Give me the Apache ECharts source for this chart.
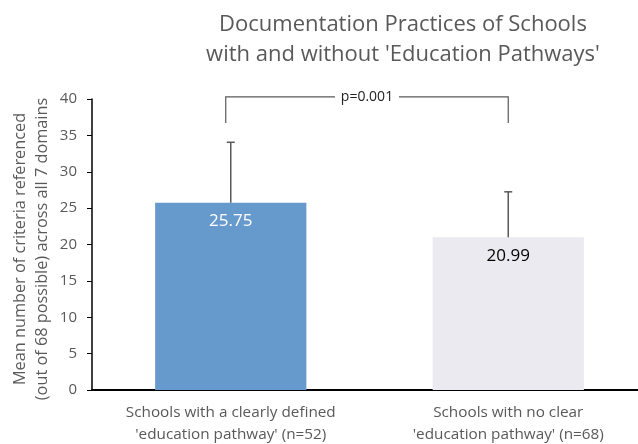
<!DOCTYPE html>
<html>
<head>
<meta charset="utf-8">
<script src="https://cdn.jsdelivr.net/npm/echarts@6/dist/echarts.min.js"></script>
<style>
  html, body { margin: 0; padding: 0; background: #fff; }
  #chart { width: 638px; height: 444px; }
</style>
</head>
<body>
<div id="chart"></div>
<script>
// Chart data
const categories = [
  "Schools with a clearly defined\n'education pathway' (n=52)",
  "Schools with no clear\n'education pathway' (n=68)"
];
const means = [25.75, 20.99];
const errors = [8.3, 6.25];
const barColors = ['#6699CC', '#EAEAF0'];
const labelColors = ['#ffffff', '#000000'];
const pValueText = 'p=0.001';
const bracketY = [36.7, 40.3];   // bottom of bracket legs, top of bracket
const yTicks = { min: 0, max: 40, step: 5 };
const yAxisTitle = 'Mean number of criteria referenced\n(out of 68 possible) across all 7 domains';

const chart = echarts.init(document.getElementById('chart'));
const grey = '#595959';
const font = '"Open Sans", "Liberation Sans", sans-serif';

chart.setOption({
  animation: false,
  title: {
    text: "Documentation Practices of Schools\nwith and without 'Education Pathways'",
    left: 398,
    top: 5,
    textAlign: 'center',
    textStyle: { fontFamily: font, fontSize: 22, fontWeight: 'normal', color: grey, lineHeight: 30 }
  },
  // rotated y-axis title
  graphic: [{
    type: 'text',
    x: 31, y: 249,
    rotation: Math.PI / 2,
    style: {
      text: yAxisTitle, fill: grey, font: '16.3px ' + font, lineHeight: 22,
      align: 'center', verticalAlign: 'middle'
    }
  }],
  grid: { left: 92, top: 99, width: 555, bottom: 54, containLabel: false, outerBoundsMode: 'none' },
  xAxis: {
    type: 'category',
    data: categories,
    axisLine: { lineStyle: { color: '#000', width: 2 } },
    axisTick: { show: false },
    axisLabel: { color: grey, fontFamily: font, fontSize: 15.3, lineHeight: 22, margin: 12 }
  },
  yAxis: {
    type: 'value',
    min: yTicks.min, max: yTicks.max, interval: yTicks.step,
    axisLine: { show: true, lineStyle: { color: '#000', width: 1.5 } },
    axisTick: { show: true, length: 5, lineStyle: { color: '#000' } },
    splitLine: { show: false },
    axisLabel: { color: grey, fontFamily: font, fontSize: 15, margin: 15 }
  },
  series: [
    {
      type: 'bar',
      barWidth: '54.5%',
      data: means.map((v, i) => ({ value: v, itemStyle: { color: barColors[i] },
        label: { color: labelColors[i] } })),
      label: {
        show: true, position: 'insideTop', distance: 10,
        fontFamily: font, fontSize: 17,
        formatter: p => p.value.toFixed(2)
      },
      z: 2
    },
    {
      // error bars (upper whisker with cap)
      type: 'custom',
      data: means.map((v, i) => [i, v, v + errors[i]]),
      renderItem: (params, api) => {
        const base = api.coord([api.value(0), api.value(1)]);
        const top = api.coord([api.value(0), api.value(2)]);
        const cap = 4;
        const style = { stroke: grey, lineWidth: 1.5 };
        return {
          type: 'group',
          children: [
            { type: 'line', shape: { x1: base[0], y1: base[1], x2: top[0], y2: top[1] }, style },
            { type: 'line', shape: { x1: top[0] - cap, y1: top[1], x2: top[0] + cap, y2: top[1] }, style }
          ]
        };
      },
      z: 3
    },
    {
      // significance bracket between the two groups
      type: 'custom',
      data: [[0, 1, bracketY[0], bracketY[1]]],
      renderItem: (params, api) => {
        const l = api.coord([api.value(0), api.value(3)]);
        const r = api.coord([api.value(1), api.value(3)]);
        const lb = api.coord([api.value(0), api.value(2)]);
        const x1 = l[0] - 5, x2 = r[0];
        const y = l[1], yb = lb[1];
        const mid = (x1 + x2) / 2;
        const gap = 32;
        const style = { stroke: grey, lineWidth: 1.2, fill: null };
        return {
          type: 'group',
          children: [
            { type: 'polyline', shape: { points: [[x1, yb], [x1, y], [mid - gap, y]] }, style },
            { type: 'polyline', shape: { points: [[mid + gap, y], [x2, y], [x2, yb]] }, style },
            { type: 'text', x: mid, y: y, style: { text: pValueText, align: 'center', verticalAlign: 'middle',
              fill: '#222', font: '14px ' + font } }
          ]
        };
      },
      z: 3
    }
  ]
});
</script>
</body>
</html>
